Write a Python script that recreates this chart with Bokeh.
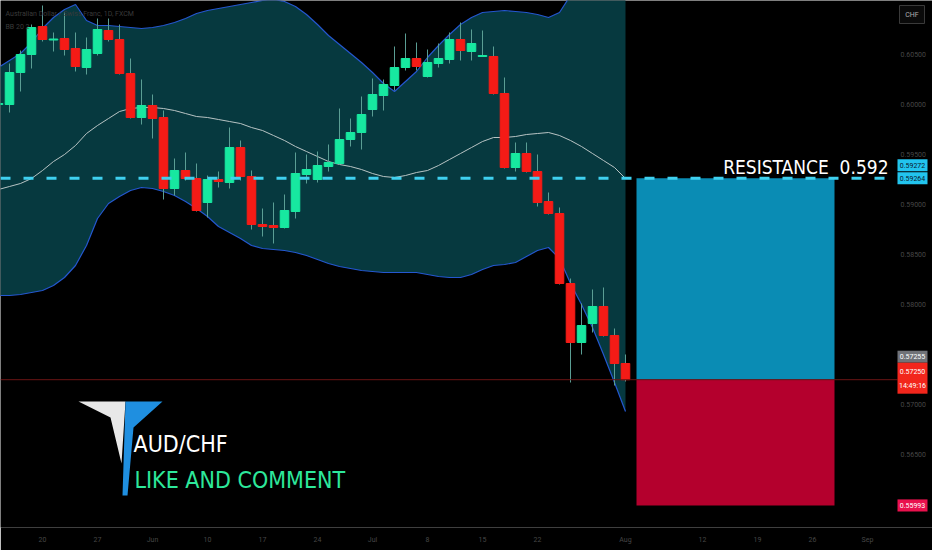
from bokeh.plotting import figure
from bokeh.models import ColumnDataSource, FixedTicker, Label
from bokeh.core.properties import value
from bokeh.embed import file_html
from bokeh.resources import INLINE

# ---- daily AUD/CHF candles, x = trading days counted from 3 Jun 2024 ----
day = list(range(-14, 44))
opens = [0.60002, 0.60002, 0.60322, 0.60502, 0.60782, 0.60647, 0.60662, 0.60562, 0.60372, 0.60512,
         0.60742, 0.60652, 0.60312, 0.59872, 0.59992, 0.59872, 0.59162, 0.59342, 0.59262, 0.59022,
         0.59252, 0.59222, 0.59572, 0.59282, 0.58802, 0.58792, 0.58772, 0.58932, 0.59302, 0.59252,
         0.59382, 0.59412, 0.59652, 0.59722, 0.59952, 0.60092, 0.60192, 0.60372, 0.60462, 0.60282,
         0.60412, 0.60452, 0.60652, 0.60532, 0.60482, 0.60482, 0.60112, 0.59372, 0.59512, 0.59332,
         0.59032, 0.58912, 0.58212, 0.57622, 0.57812, 0.57982, 0.57692, 0.57412]
highs = [0.60042, 0.60412, 0.60542, 0.60802, 0.60992, 0.60722, 0.60922, 0.60722, 0.60672, 0.60862,
         0.60862, 0.60802, 0.60462, 0.60252, 0.60102, 0.59942, 0.59462, 0.59522, 0.59412, 0.59292,
         0.59332, 0.59772, 0.59642, 0.59342, 0.58962, 0.59022, 0.59102, 0.59522, 0.59502, 0.59532,
         0.59602, 0.59962, 0.59862, 0.60082, 0.60262, 0.60252, 0.60582, 0.60712, 0.60622, 0.60552,
         0.60612, 0.60722, 0.60822, 0.60752, 0.60742, 0.60582, 0.60272, 0.59622, 0.59622, 0.59502,
         0.59122, 0.58972, 0.58262, 0.58012, 0.58152, 0.58172, 0.57762, 0.57502]
lows = [0.59962, 0.59922, 0.60132, 0.60362, 0.60632, 0.60532, 0.60492, 0.60332, 0.60302, 0.60492,
        0.60632, 0.60302, 0.59862, 0.59802, 0.59662, 0.59052, 0.59092, 0.59242, 0.58932, 0.58872,
        0.59172, 0.59162, 0.59242, 0.58752, 0.58682, 0.58612, 0.58762, 0.58862, 0.59212, 0.59222,
        0.59332, 0.59402, 0.59582, 0.59552, 0.59882, 0.59942, 0.60142, 0.60342, 0.60342, 0.60272,
        0.60372, 0.60412, 0.60442, 0.60442, 0.60477, 0.60102, 0.59362, 0.59332, 0.59322, 0.58982,
        0.58902, 0.58202, 0.57222, 0.57502, 0.57722, 0.57682, 0.57192, 0.57232]
closes = [0.60012, 0.60322, 0.60502, 0.60772, 0.60652, 0.60657, 0.60552, 0.60382, 0.60552, 0.60752,
          0.60652, 0.60312, 0.59872, 0.59992, 0.59862, 0.59162, 0.59342, 0.59262, 0.58942, 0.59252,
          0.59232, 0.59572, 0.59282, 0.58802, 0.58782, 0.58772, 0.58942, 0.59312, 0.59352, 0.59392,
          0.59422, 0.59652, 0.59722, 0.59902, 0.60102, 0.60202, 0.60372, 0.60462, 0.60382, 0.60422,
          0.60462, 0.60652, 0.60542, 0.60612, 0.60492, 0.60112, 0.59372, 0.59512, 0.59332, 0.59022,
          0.58912, 0.58212, 0.57622, 0.57792, 0.57982, 0.57692, 0.57412, 0.57250]

# ---- Bollinger bands (20, 2) ----
bb_upper = [0.60372, 0.60442, 0.60512, 0.60622, 0.60762, 0.60872, 0.60952, 0.61002, 0.60842, 0.60792,
            0.60792, 0.60782, 0.60772, 0.60762, 0.60772, 0.60792, 0.60822, 0.60862, 0.60912, 0.60942,
            0.60962, 0.60982, 0.61002, 0.61022, 0.61042, 0.61052, 0.61032, 0.60982, 0.60902, 0.60802,
            0.60692, 0.60602, 0.60512, 0.60422, 0.60322, 0.60212, 0.60132, 0.60232, 0.60332, 0.60472,
            0.60592, 0.60702, 0.60802, 0.60872, 0.60922, 0.60932, 0.60942, 0.60932, 0.60922, 0.60902,
            0.60872, 0.60922, 0.61092, 0.61292, 0.61442, 0.61542, 0.61642, 0.61742]
bb_basis = [0.59152, 0.59182, 0.59212, 0.59262, 0.59342, 0.59432, 0.59502, 0.59592, 0.59712, 0.59792,
            0.59862, 0.59932, 0.59962, 0.59972, 0.59972, 0.59962, 0.59942, 0.59912, 0.59882, 0.59872,
            0.59852, 0.59832, 0.59812, 0.59772, 0.59742, 0.59692, 0.59642, 0.59582, 0.59532, 0.59482,
            0.59432, 0.59402, 0.59382, 0.59352, 0.59312, 0.59282, 0.59272, 0.59292, 0.59322, 0.59342,
            0.59392, 0.59452, 0.59512, 0.59572, 0.59632, 0.59672, 0.59672, 0.59682, 0.59702, 0.59712,
            0.59722, 0.59692, 0.59642, 0.59582, 0.59512, 0.59442, 0.59372, 0.59262]
bb_lower = [0.58092, 0.58092, 0.58102, 0.58122, 0.58142, 0.58192, 0.58272, 0.58392, 0.58592, 0.58862,
            0.59012, 0.59082, 0.59142, 0.59172, 0.59162, 0.59132, 0.59092, 0.59032, 0.58962, 0.58882,
            0.58782, 0.58722, 0.58662, 0.58592, 0.58562, 0.58552, 0.58542, 0.58522, 0.58492, 0.58452,
            0.58412, 0.58382, 0.58362, 0.58342, 0.58332, 0.58322, 0.58322, 0.58322, 0.58322, 0.58302,
            0.58282, 0.58272, 0.58272, 0.58302, 0.58352, 0.58392, 0.58402, 0.58422, 0.58482, 0.58542,
            0.58572, 0.58462, 0.58212, 0.58002, 0.57772, 0.57502, 0.57222, 0.56932]

# ---- axes ----
tick_days = [-10, -5, 0, 5, 10, 15, 20, 25, 30, 35, 43, 50, 55, 60, 65]
tick_labels = ["20", "27", "Jun", "10", "17", "24", "Jul", "8", "15", "22", "Aug", "12", "19", "26", "Sep"]
price_ticks = [0.565, 0.570, 0.575, 0.580, 0.585, 0.590, 0.595, 0.600, 0.605]

# ---- trade idea ----
resistance = 0.59264
resistance_alt = 0.59272
last_price = 0.57250
ask_price = 0.57255
stop_price = 0.55993
position_start, position_end = 44, 62
countdown = "14:49:16"

# ---- canvas geometry ----
W, H = 932, 550
AXIS_H = 23
BAR_PX = 11.0           # pixels per trading day
ORIGIN_PX = 152.0       # pixel column of 3 Jun
PRICE_TOP = 0.61042     # price at the top edge of the pane
PX_PER_UNIT = 10000.0   # pixels per 1.0 of price


def sx(px):
    return (px - ORIGIN_PX) / BAR_PX


def sy(py):
    return PRICE_TOP - py / PX_PER_UNIT


def dy(px):
    return px / PX_PER_UNIT


x_start, x_end = sx(0), sx(W)
y_end, y_start = PRICE_TOP, sy(H - AXIS_H)

UP, DOWN = "#17e8a0", "#f51b16"
WICK = "#5a9e94"
BAND_FILL = "#06393f"
BAND_LINE = "#2457cf"
BASIS_LINE = "#b8c4c4"
AXIS_TEXT = "#474747"
COND = "DejaVu Sans Condensed"

p = figure(width=W, height=H, x_range=(x_start, x_end), y_range=(y_start, y_end),
           output_backend="svg", toolbar_location=None,
           background_fill_color="#000000", border_fill_color="#000000",
           outline_line_color=None, min_border=0, min_border_bottom=AXIS_H)
p.grid.grid_line_color = None
p.yaxis.visible = False

xa = p.xaxis[0]
xa.axis_line_color = None
xa.major_tick_line_color = None
xa.minor_tick_line_color = None
xa.major_tick_out = 0
xa.major_tick_in = 0
xa.major_label_text_color = AXIS_TEXT
xa.major_label_text_font = "Roboto"
xa.major_label_text_font_size = "7px"
xa.major_label_standoff = 8
xa.ticker = FixedTicker(ticks=tick_days)
xa.major_label_overrides = {d: t for d, t in zip(tick_days, tick_labels)}

# Bollinger band cloud and lines
bands = ColumnDataSource(dict(day=day, upper=bb_upper, basis=bb_basis, lower=bb_lower))
p.varea(x="day", y1="lower", y2="upper", source=bands, fill_color=BAND_FILL)
p.line(x="day", y="upper", source=bands, line_color=BAND_LINE, line_width=1.2)
p.line(x="day", y="lower", source=bands, line_color=BAND_LINE, line_width=1.2)
p.line(x="day", y="basis", source=bands, line_color=BASIS_LINE, line_width=1)

# position tool: target zone and stop zone
p.quad(left=[position_start], right=[position_end], bottom=[last_price], top=[resistance],
       fill_color="#0a8cb4", line_color=None)
p.quad(left=[position_start], right=[position_end], bottom=[stop_price], top=[last_price],
       fill_color="#b4002d", line_color=None)

# candles
colors = [UP if c >= o else DOWN for o, c in zip(opens, closes)]
candles = ColumnDataSource(dict(day=day, open=opens, high=highs, low=lows, close=closes,
                                top=[max(o, c) for o, c in zip(opens, closes)],
                                bottom=[min(o, c) for o, c in zip(opens, closes)],
                                color=colors))
p.segment(x0="day", y0="low", x1="day", y1="high", source=candles, line_color=WICK, line_width=1)
p.vbar(x="day", width=0.78, top="top", bottom="bottom", source=candles,
       fill_color="color", line_color="color", line_width=1)

# price lines running up to the scale tags
tag_left = sx(897)
p.segment(x0=[x_start], y0=[last_price], x1=[tag_left], y1=[last_price],
          line_color="#6a1414", line_width=1)
p.segment(x0=[x_start], y0=[resistance], x1=[tag_left], y1=[resistance],
          line_color="#3fd0ef", line_width=3, line_dash="10 13")

# price scale column
scale_x = sx(900)
p.text(x=[scale_x] * len(price_ticks), y=price_ticks, text=[f"{v:.5f}" for v in price_ticks],
       text_color=AXIS_TEXT, text_font=value("Roboto"), text_font_size="7px",
       text_baseline="middle", text_align="left")

tag_cx = sx(912)
tag_w = 30 / BAR_PX
tags = [
    # price, text, background, text colour, centre offset in px, box height in px
    (resistance, f"{resistance:.5f}", "#22c4ee", "#0b1a2e", 0, 12),
    (resistance, f"{resistance_alt:.5f}", "#22c4ee", "#0b1a2e", 13, 12),
    (last_price, f"{ask_price:.5f}", "#707378", "#ffffff", 23, 12),
    (stop_price, f"{stop_price:.5f}", "#e9114d", "#ffffff", 0, 12),
]
for price, txt, bg, fg, off, hpx in tags:
    yc = price + dy(off)
    p.rect(x=[tag_cx], y=[yc], width=[tag_w], height=[dy(hpx)], fill_color=bg, line_color=None)
    p.text(x=[tag_cx], y=[yc], text=[txt], text_color=fg, text_font=value("Roboto"),
           text_font_size="7px", text_align="center", text_baseline="middle")

# current-price tag with the bar countdown
p.rect(x=[tag_cx], y=[last_price + dy(1.5)], width=[tag_w], height=[dy(31)],
       fill_color="#f2261c", line_color=None)
p.text(x=[tag_cx, tag_cx], y=[last_price + dy(8.5), last_price - dy(6.5)],
       text=[f"{last_price:.5f}", countdown], text_color="#ffffff", text_font=value("Roboto"),
       text_font_size="7px", text_align="center", text_baseline="middle")

# currency button
p.rect(x=[sx(911.5)], y=[sy(14)], width=[25 / BAR_PX], height=[dy(18)],
       fill_color="#0a0a0a", line_color="#3a3a3a", line_width=1)
p.text(x=[sx(911.5)], y=[sy(14)], text=["CHF"], text_color="#b0b0b0",
       text_font=value("Roboto"), text_font_size="7px", text_align="center",
       text_baseline="middle")

# logo
logo_white_x = [sx(v) for v in (78, 125, 121, 110)]
logo_white_y = [sy(v) for v in (401, 401, 463, 417)]
logo_blue_x = [sx(v) for v in (125, 162, 133, 127, 122)]
logo_blue_y = [sy(v) for v in (401, 401, 427, 495, 495)]
p.patch(logo_white_x, logo_white_y, fill_color="#e8e8e8", line_color=None)
p.patch(logo_blue_x, logo_blue_y, fill_color="#1f8fe0", line_color=None)

# texts
p.add_layout(Label(x=sx(133), y=sy(443), text="AUD/CHF", text_color="#ffffff",
                   text_font=COND, text_font_size="23px", text_baseline="alphabetic"))
p.add_layout(Label(x=sx(134), y=sy(479), text="LIKE AND COMMENT", text_color="#2de89b",
                   text_font=COND, text_font_size="23px", text_baseline="alphabetic"))
p.add_layout(Label(x=sx(888), y=sy(166), text="RESISTANCE\u00a0\u00a00.592", text_color="#ffffff",
                   text_font=COND, text_font_size="19px", text_align="right",
                   text_baseline="alphabetic"))
p.add_layout(Label(x=sx(5), y=sy(13), text="Australian Dollar / Swiss Franc, 1D, FXCM",
                   text_color="#3a3a3a", text_font="Roboto", text_font_size="7px",
                   text_baseline="middle"))
p.add_layout(Label(x=sx(5), y=sy(26), text="BB 20 2", text_color="#3a3a3a",
                   text_font="Roboto", text_font_size="7px", text_baseline="middle"))

open("out.html", "w").write(file_html(p, INLINE))
